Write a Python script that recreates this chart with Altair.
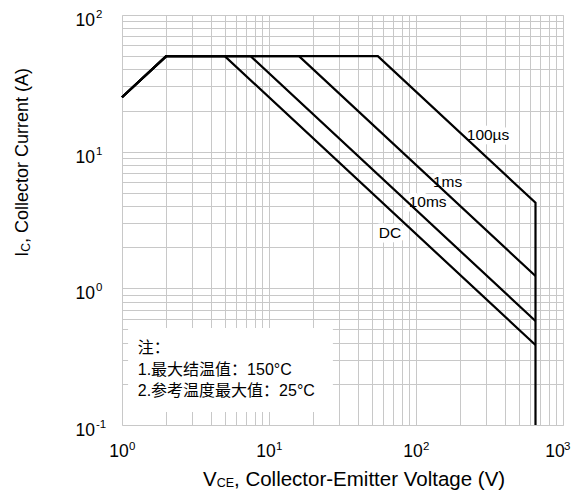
import altair as alt
import pandas as pd

# ---- data ----
curve_names = ["DC", "10ms", "1ms", "100µs"]
v_dc = [1, 2, 5, 650]
i_dc = [25, 50, 50, 0.385]
v_10ms = [1, 2, 7.5, 650]
i_10ms = [25, 50, 50, 0.577]
v_1ms = [1, 2, 16, 650]
i_1ms = [25, 50, 50, 1.23]
v_100us = [1, 2, 55, 650, 650]
i_100us = [25, 50, 50, 4.23, 0.1]

label_text = ["100µs", "1ms", "10ms", "DC"]
label_v = [309, 164, 120, 66.5]
label_i = [13.2, 6.04, 4.31, 2.55]

x_ticks = [1, 10, 100]
x_exp = ["0", "1", "2"]
x_last_tick = [1000]
x_last_exp = ["3"]
y_ticks = [0.1, 1, 10, 100]
y_exp = ["-1", "0", "1", "2"]

x_grid = [m * 10 ** k for k in range(0, 3) for m in range(1, 10)] + [1000]
y_grid = [round(m * 10.0 ** k, 6) for k in range(-1, 2) for m in range(1, 10)] + [100]

note_lines = ["注：", "1.最大结温值：150°C", "2.参考温度最大值：25°C"]
note_v = [1.28, 1.28, 1.28]
note_i = [0.366, 0.253, 0.177]
note_box_v = [1.1, 27.2]
note_box_i = [0.1247, 0.513]

# ---- tables ----
rows = []
for name, vs, cs in zip(curve_names, [v_dc, v_10ms, v_1ms, v_100us],
                        [i_dc, i_10ms, i_1ms, i_100us]):
    for k, (v, c) in enumerate(zip(vs, cs)):
        rows.append({"curve": name, "V": v, "I": c, "order": k})
curves = pd.DataFrame(rows)
labels = pd.DataFrame({"text": label_text, "V": label_v, "I": label_i})
xt = pd.DataFrame({"V": x_ticks, "exp": x_exp})
xt_last = pd.DataFrame({"V": x_last_tick, "exp": x_last_exp})
yt = pd.DataFrame({"I": y_ticks, "exp": y_exp})
notes = pd.DataFrame({"text": note_lines, "V": note_v, "I": note_i})
box = pd.DataFrame({"V": [note_box_v[0]], "V2": [note_box_v[1]],
                    "I": [note_box_i[0]], "I2": [note_box_i[1]]})
one = pd.DataFrame({"k": [0]})

W, H = 441, 410
FONT = "Liberation Sans, Arial, Noto Sans CJK SC, sans-serif"

xs = alt.Scale(type="log", domain=[1, 1000], nice=False)
ys = alt.Scale(type="log", domain=[0.1, 100], nice=False)

x_axis = alt.Axis(values=x_grid, grid=True, labels=False, ticks=False,
                  domain=False, title=None, gridColor="#c8c8c8", gridWidth=1)
y_axis = alt.Axis(values=y_grid, grid=True, labels=False, ticks=False,
                  domain=False, title=None, gridColor="#c8c8c8", gridWidth=1)


def X(f="V:Q"):
    return alt.X(f, scale=xs, axis=x_axis)


def Y(f="I:Q"):
    return alt.Y(f, scale=ys, axis=y_axis)


lines = alt.Chart(curves).mark_line(color="black", strokeWidth=2.2,
                                    strokeJoin="miter").encode(
    x=X(), y=Y(), detail="curve:N", order="order:Q",
)

box_layer = alt.Chart(box).mark_rect(fill="white").encode(
    x=X(), x2="V2:Q", y=Y(), y2="I2:Q",
)

label_bg = alt.Chart(labels).mark_text(
    font=FONT, fontSize=15.5, fill="white", stroke="white", strokeWidth=9,
    strokeJoin="round"
).encode(x=X(), y=Y(), text="text:N")

label_fg = alt.Chart(labels).mark_text(
    font=FONT, fontSize=15.5, color="black"
).encode(x=X(), y=Y(), text="text:N")

note_text = alt.Chart(notes).mark_text(
    font=FONT, fontSize=16, color="black", align="left"
).encode(x=X(), y=Y(), text="text:N")


def x_labels(df, dx10, dxexp):
    a = alt.Chart(df).mark_text(
        font=FONT, fontSize=17.5, color="black", align="center",
        baseline="alphabetic", dx=dx10
    ).encode(x=X(), y=alt.value(H + 32), text=alt.value("10"))
    b = alt.Chart(df).mark_text(
        font=FONT, fontSize=11.5, color="black", align="left",
        baseline="alphabetic", dx=dxexp
    ).encode(x=X(), y=alt.value(H + 25), text="exp:N")
    return [a, b]


y_lab10 = alt.Chart(yt).mark_text(
    font=FONT, fontSize=17.5, color="black", align="right",
    baseline="alphabetic", dy=11
).encode(y=Y(), x=alt.value(-27), text=alt.value("10"))
y_labexp = alt.Chart(yt).mark_text(
    font=FONT, fontSize=11.5, color="black", align="left",
    baseline="alphabetic", dy=3
).encode(y=Y(), x=alt.value(-26), text="exp:N")

# axis titles with subscripts
XT_SIZE, XT_SUB = 20.5, 12.5
x_anchor, x_base = 112, H + 60.5
w_ce = 1.389 * XT_SUB
xt_main = alt.Chart(one).mark_text(
    font=FONT, fontSize=XT_SIZE, align="left", baseline="alphabetic"
).encode(x=alt.value(x_anchor), y=alt.value(x_base),
         text=alt.value(", Collector-Emitter Voltage (V)"))
xt_sub = alt.Chart(one).mark_text(
    font=FONT, fontSize=XT_SUB, align="right", baseline="alphabetic", dy=1
).encode(x=alt.value(x_anchor), y=alt.value(x_base), text=alt.value("CE"))
xt_v = alt.Chart(one).mark_text(
    font=FONT, fontSize=XT_SIZE, align="right", baseline="alphabetic",
    dx=-w_ce
).encode(x=alt.value(x_anchor), y=alt.value(x_base), text=alt.value("V"))

YT_SIZE, YT_SUB = 18, 12
y_anchor_x, y_anchor_y = -94, 228
w_c = 0.722 * YT_SUB
yt_main = alt.Chart(one).mark_text(
    font=FONT, fontSize=YT_SIZE, align="left", baseline="alphabetic", angle=270
).encode(x=alt.value(y_anchor_x), y=alt.value(y_anchor_y),
         text=alt.value(", Collector Current (A)"))
yt_sub = alt.Chart(one).mark_text(
    font=FONT, fontSize=YT_SUB, align="right", baseline="alphabetic",
    angle=270, dy=2
).encode(x=alt.value(y_anchor_x), y=alt.value(y_anchor_y), text=alt.value("C"))
yt_i = alt.Chart(one).mark_text(
    font=FONT, fontSize=YT_SIZE, align="right", baseline="alphabetic",
    angle=270, dx=-w_c
).encode(x=alt.value(y_anchor_x), y=alt.value(y_anchor_y), text=alt.value("I"))

chart = alt.layer(
    box_layer, label_bg, lines, label_fg, note_text,
    *x_labels(xt, -3, 7), *x_labels(xt_last, -8, 1),
    y_lab10, y_labexp,
    xt_main, xt_sub, xt_v, yt_main, yt_sub, yt_i,
).properties(
    width=W, height=H,
    autosize=alt.AutoSizeParams(type="none"),
    padding={"left": 114, "top": 7, "right": 8, "bottom": 65},
).configure_view(
    stroke="#b4b4b4", strokeWidth=2
).configure(background="white")

chart.save("out.html", embed_options={"renderer": "svg", "actions": False})
